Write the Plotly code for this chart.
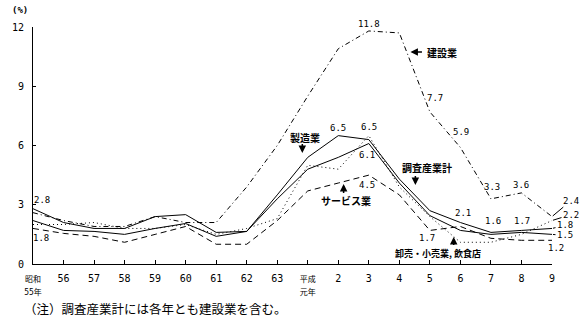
import plotly.graph_objects as go

# ---------------- data ----------------
years = ["昭和<br>55年", "56", "57", "58", "59", "60", "61", "62", "63",
         "平成<br>元年", "2", "3", "4", "5", "6", "7", "8", "9"]

kensetsu = [2.6, 2.2, 1.9, 1.9, 2.4, 2.1, 2.1, 3.9, 6.0, 8.5, 10.9, 11.8, 11.7, 7.7, 5.9, 3.3, 3.6, 2.4]   # 建設業
seizo    = [2.8, 2.1, 1.8, 1.8, 2.4, 2.5, 1.6, 1.65, 3.5, 5.4, 6.5, 6.3, 4.3, 2.7, 2.1, 1.6, 1.7, 1.8]    # 製造業
chosa    = [2.2, 1.7, 1.65, 1.5, 1.8, 2.05, 1.4, 1.65, 3.3, 4.8, 5.4, 6.1, 4.1, 2.45, 1.7, 1.5, 1.6, 1.5]  # 調査産業計
service  = [1.8, 1.55, 1.4, 1.1, 1.5, 1.9, 1.0, 1.0, 2.2, 3.7, 4.1, 4.5, 3.5, 1.7, 1.9, 1.3, 1.2, 1.2]    # サービス業
oroshi   = [2.0, 2.0, 2.1, 1.8, 1.8, 2.0, 1.5, 1.8, 2.3, 5.0, 4.8, 6.5, 3.9, 2.4, 1.1, 1.1, 1.5, 2.2]     # 卸売・小売業,飲食店

y_ticks = [0, 3, 6, 9, 12]

series = {
    "建設業": (kensetsu, "5px,3px,1px,3px"),
    "製造業": (seizo, "solid"),
    "調査産業計": (chosa, "solid"),
    "サービス業": (service, "6px,4px"),
    "卸売・小売業,飲食店": (oroshi, "1px,3px"),
}

# ---------------- figure ----------------
W, H = 587, 330
L, R, T, B = 24, 35, 27, 66
PW, PH = W - L - R, H - T - B

def px(x):
    return (x - L) / PW

def py(y):
    return (H - B - y) / PH

NUM_FONT = "DejaVu Sans Mono, Noto Sans CJK JP"
JP_FONT = "Noto Sans CJK JP"

fig = go.Figure()
for name, (vals, dash) in series.items():
    fig.add_trace(go.Scatter(
        x=years, y=vals, mode="lines", name=name, showlegend=False,
        line=dict(color="black", width=1, dash=dash),
        hoverinfo="skip",
    ))

ann = []

# value labels (series, index, xshift, yshift, leader)
value_labels = [
    ("製造業", 0, 9, 9, False),
    ("サービス業", 0, 8, -10, False),
    ("建設業", 11, 0, 7, False),
    ("建設業", 13, 5, 14, False),
    ("建設業", 14, 1, 15, False),
    ("製造業", 10, 0, 8, False),
    ("卸売・小売業,飲食店", 11, 0, 9, False),
    ("調査産業計", 11, -2, -11, False),
    ("サービス業", 11, -2, -10, False),
    ("建設業", 15, 1, 12, False),
    ("建設業", 16, 0, 8, False),
    ("製造業", 14, 3, 10, False),
    ("製造業", 15, 2, 11, False),
    ("製造業", 16, 1, 9, False),
    ("サービス業", 13, -3, -8, False),
    ("建設業", 17, 19, 16, True),
    ("卸売・小売業,飲食店", 17, 19, 6, True),
    ("製造業", 17, 13, 3, True),
    ("調査産業計", 17, 13, -1, True),
    ("サービス業", 17, 4, -8, False),
]
for key, idx, dx, dy, leader in value_labels:
    v = series[key][0][idx]
    if leader:
        ann.append(dict(x=idx, y=v, xref="x", yref="y", text=f"{v:.1f}",
                        showarrow=True, arrowhead=0, arrowwidth=1, arrowcolor="black",
                        ax=dx, ay=-dy, standoff=1,
                        font=dict(family=NUM_FONT, size=9, color="black")))
    else:
        ann.append(dict(x=idx, y=v, xref="x", yref="y", text=f"{v:.1f}",
                        showarrow=False, xshift=dx, yshift=dy,
                        font=dict(family=NUM_FONT, size=9, color="black")))

# series name labels
name_labels = [
    ("建設業", 440, 52, 10),
    ("製造業", 301, 137, 10),
    ("調査産業計", 425, 167, 10),
    ("サービス業", 342, 200, 10),
    ("卸売・小売業, 飲食店", 436, 253, 9),
]
for txt, cx, cy, fs in name_labels:
    ann.append(dict(x=px(cx), y=py(cy), xref="paper", yref="paper", text=f"<b>{txt}</b>",
                    showarrow=False, xanchor="center", yanchor="middle",
                    font=dict(family=JP_FONT, size=fs, color="black")))

# pointer arrows (tip x, tip y, tail offset x, tail offset y)
arrows = [
    (408, 52, 13, 0),
    (298, 153, 0, -11),
    (413, 185, 0, -11),
    (340, 184, 0, 11),
    (452, 237, 0, 10),
]
for tx, ty, ox, oy in arrows:
    ann.append(dict(x=px(tx), y=py(ty), xref="paper", yref="paper", text=" ",
                    showarrow=True, arrowhead=2, arrowsize=1, arrowwidth=1.5,
                    arrowcolor="black", ax=ox, ay=oy, standoff=0,
                    font=dict(size=1)))

# unit label and footnote
ann.append(dict(x=px(11), y=py(10), xref="paper", yref="paper", text="<b>(%)</b>",
                showarrow=False, xanchor="center", yanchor="middle",
                font=dict(family=NUM_FONT, size=9, color="black")))
ann.append(dict(x=px(13), y=py(308), xref="paper", yref="paper",
                text="（注）調査産業計には各年とも建設業を含む。",
                showarrow=False, xanchor="left", yanchor="middle",
                font=dict(family=JP_FONT, size=12.5, color="black")))

# tick text: two-line era labels drawn smaller
tick_text = [f"<span style='font-size:8px'>{y}</span>" if "<br>" in y else y for y in years]

fig.update_layout(
    width=W, height=H, autosize=False,
    margin=dict(l=L, r=R, t=T, b=B, pad=0),
    paper_bgcolor="white", plot_bgcolor="white",
    annotations=ann,
    xaxis=dict(type="category", range=[0, len(years) - 1], showline=True, linecolor="black",
               linewidth=1, ticks="inside", ticklen=4, tickcolor="black", tickwidth=1,
               showgrid=False, zeroline=False, tickangle=0,
               tickvals=years, ticktext=tick_text, ticklabelstandoff=5,
               tickfont=dict(family=NUM_FONT, size=10, color="black")),
    yaxis=dict(range=[0, 12], tickvals=y_ticks, showline=True, linecolor="black",
               linewidth=1, ticks="inside", ticklen=3, tickcolor="black", tickwidth=1,
               showgrid=False, zeroline=False, ticklabelstandoff=6,
               tickfont=dict(family=NUM_FONT, size=10, color="black")),
)

fig.write_html("out.html")
